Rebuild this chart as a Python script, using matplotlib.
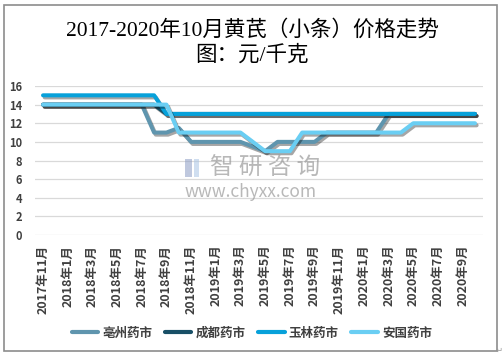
import matplotlib
matplotlib.use("Agg")
import matplotlib.pyplot as plt
import matplotlib.patheffects as pe
from matplotlib.patches import Rectangle

plt.rcParams['font.family'] = ['Noto Sans CJK SC', 'DejaVu Sans']

months = ["2017年11月", "2017年12月",
          "2018年1月", "2018年2月", "2018年3月", "2018年4月", "2018年5月", "2018年6月",
          "2018年7月", "2018年8月", "2018年9月", "2018年10月", "2018年11月", "2018年12月",
          "2019年1月", "2019年2月", "2019年3月", "2019年4月", "2019年5月", "2019年6月",
          "2019年7月", "2019年8月", "2019年9月", "2019年10月", "2019年11月", "2019年12月",
          "2020年1月", "2020年2月", "2020年3月", "2020年4月", "2020年5月", "2020年6月",
          "2020年7月", "2020年8月", "2020年9月", "2020年10月"]

bozhou = [14, 14, 14, 14, 14, 14, 14, 14, 14, 11, 11, 11.5, 10, 10, 10, 10, 10, 9.5, 9,
          10, 10, 10, 10, 11, 11, 11, 11, 11, 13, 13, 13, 13, 13, 13, 13, 13]
chengdu = [14] * 10 + [13] * 26
yulin = [15] * 10 + [13] * 26
anguo = [14, 14, 14, 14, 14, 14, 14, 14, 14, 14, 14, 11, 11, 11, 11, 11, 11, 10, 9, 9, 9,
         11, 11, 11, 11, 11, 11, 11, 11, 11, 12, 12, 12, 12, 12, 12]

series_names = ["亳州药市", "成都药市", "玉林药市", "安国药市"]
series_vals = [bozhou, chengdu, yulin, anguo]
colors = ["#5F95AE", "#184F66", "#07A1DA", "#6ACEF3"]

yticks = [0, 2, 4, 6, 8, 10, 12, 14, 16]

fig = plt.figure(figsize=(5.04, 3.57), dpi=100)
ax = fig.add_axes([35 / 504, 1 - 235 / 357, 448 / 504, 149 / 357])

x = list(range(len(months)))
shadow = [pe.SimpleLineShadow(offset=(1.2, -1.5), shadow_color='black', alpha=0.35),
          pe.Normal()]
for name, vals, c in zip(series_names, series_vals, colors):
    ax.plot(x, vals, color=c, lw=2.9, solid_capstyle='round', solid_joinstyle='round',
            label=name, path_effects=shadow, zorder=3)

ax.set_ylim(0, 16)
ax.set_xlim(-0.65, len(months) - 0.35)
ax.set_yticks(yticks)
ax.set_yticklabels([str(v) for v in yticks], fontsize=8, fontweight='bold', color='#404040')
ax.set_xticks(x[::2])
ax.set_xticklabels(months[::2], rotation=90, fontsize=9, fontweight='bold', color='#404040')
ax.tick_params(axis='both', length=0)
ax.tick_params(axis='y', pad=9)
ax.tick_params(axis='x', pad=7)
ax.grid(axis='y', color='#d9d9d9', lw=0.9, zorder=0)
ax.set_axisbelow(True)
for s in ax.spines.values():
    s.set_visible(False)

# watermark
fig.text(265 / 504, 1 - 168 / 357, "智 研 咨 询", fontsize=17, color='#9a9a9a',
         alpha=0.7, ha='center', va='center', zorder=1)
fig.text(251 / 504, 1 - 192 / 357, "www.chyxx.com", fontsize=12.5, color='#9a9a9a',
         alpha=0.7, ha='center', va='center', zorder=1)
fig.patches.append(Rectangle((185 / 504, 1 - 177 / 357), 7 / 504, 18 / 357,
                             transform=fig.transFigure, facecolor='#8c9cc4', edgecolor='none',
                             alpha=0.55))
fig.patches.append(Rectangle((194 / 504, 1 - 177 / 357), 5 / 504, 18 / 357,
                             transform=fig.transFigure, facecolor='#a8c4e4', edgecolor='none',
                             alpha=0.55))

# title
fig.text(0.5, 1 - 30 / 357, "2017-2020年10月黄芪（小条）价格走势", fontsize=15.5,
         family=['Liberation Serif', 'Noto Sans CJK SC'], ha='center', va='center', color='black')
fig.text(0.5, 1 - 55 / 357, "图：元/千克", fontsize=15.5,
         family=['Liberation Serif', 'Noto Sans CJK SC'], ha='center', va='center', color='black')

leg = fig.legend(loc='center', bbox_to_anchor=(0.5, 1 - 333 / 357), ncol=4, frameon=False,
                 prop={'size': 9, 'weight': 'bold'}, handlelength=2.1, columnspacing=1.0,
                 handletextpad=0.35)
for t in leg.get_texts():
    t.set_color('#404040')
for h in leg.legend_handles:
    h.set_path_effects([])
    h.set_linewidth(3)

# border
fig.patches.append(Rectangle((4 / 504, 1 - 351 / 357), 493 / 504, 346 / 357,
                             transform=fig.transFigure, facecolor='none',
                             edgecolor='#8c8c8c', lw=1.2))
fig.text(499 / 504, 1 - 350 / 357, "↵", fontsize=6, color='#999999', ha='center', va='center',
         family=['DejaVu Sans'])

fig.savefig("out.png", dpi=100)
